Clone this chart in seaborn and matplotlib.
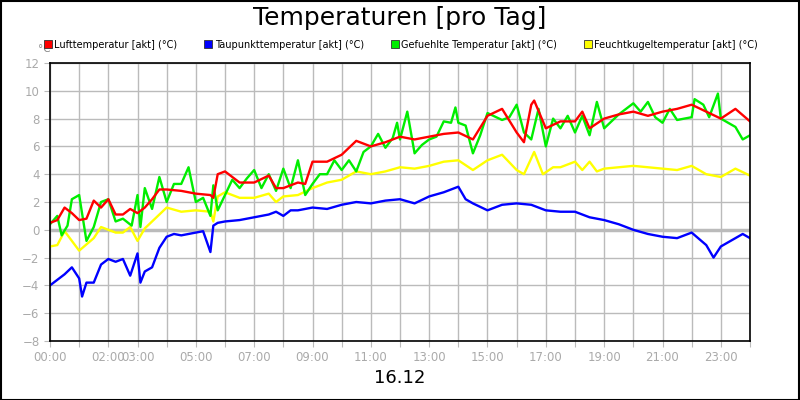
import numpy as np
import pandas as pd
import matplotlib
matplotlib.use("Agg")
import matplotlib.pyplot as plt
import seaborn as sns
from matplotlib.lines import Line2D

names = ["Lufttemperatur [akt] (°C)", "Taupunkttemperatur [akt] (°C)",
         "Gefuehlte Temperatur [akt] (°C)", "Feuchtkugeltemperatur [akt] (°C)"]
colors = ["#ff0000", "#0000ff", "#00ee00", "#ffff00"]

luft_t = [0,0.25,0.5,0.75,1.0,1.25,1.5,1.75,2.0,2.25,2.5,2.75,3.0,3.25,3.5,3.75,4.0,4.5,5.0,5.5,5.6,5.75,6.0,6.5,7.0,7.5,7.75,8.0,8.5,8.75,9.0,9.5,10.0,10.5,11.0,11.5,12.0,12.5,13.0,13.5,14.0,14.5,15.0,15.5,16.0,16.25,16.5,16.6,17.0,17.5,18.0,18.25,18.5,19.0,19.5,20.0,20.5,21.0,21.5,22.0,22.5,23.0,23.5,24.0]
luft_v = [0.5,0.7,1.6,1.2,0.7,0.8,2.1,1.6,2.2,1.1,1.1,1.5,1.2,1.6,2.2,2.9,2.9,2.8,2.6,2.5,2.3,4.0,4.2,3.4,3.4,3.9,3.0,3.0,3.4,3.3,4.9,4.9,5.4,6.4,6.0,6.3,6.7,6.5,6.7,6.9,7.0,6.5,8.2,8.7,7.0,6.3,9.0,9.3,7.3,7.8,7.8,8.5,7.3,8.0,8.3,8.5,8.2,8.5,8.7,9.0,8.5,8.0,8.7,7.8]

gef_t = [0,0.25,0.4,0.6,0.75,1.0,1.25,1.5,1.75,2.0,2.25,2.5,2.8,3.0,3.1,3.25,3.5,3.75,4.0,4.25,4.5,4.75,5.0,5.25,5.5,5.6,5.75,6.0,6.25,6.5,6.75,7.0,7.25,7.5,7.75,8.0,8.25,8.5,8.75,9.0,9.25,9.5,9.75,10.0,10.25,10.5,10.75,11.0,11.25,11.5,11.75,11.9,12.0,12.25,12.5,12.75,13.0,13.25,13.5,13.75,13.9,14.0,14.25,14.5,14.75,15.0,15.5,15.75,16.0,16.25,16.5,16.75,17.0,17.25,17.5,17.75,18.0,18.25,18.5,18.75,19.0,19.5,20.0,20.25,20.5,20.75,21.0,21.25,21.5,22.0,22.1,22.4,22.6,22.9,23.0,23.5,23.75,24.0]
gef_v = [0.4,1.0,-0.4,0.3,2.2,2.5,-0.8,0.2,2.0,2.2,0.6,0.8,0.3,2.5,0.2,3.0,1.5,3.8,2.0,3.3,3.3,4.5,2.0,2.3,1.0,3.2,1.4,2.5,3.6,3.0,3.7,4.3,3.0,4.0,2.8,4.4,3.0,5.0,2.5,3.3,4.0,4.0,5.0,4.3,5.0,4.2,5.6,6.0,6.9,5.9,6.6,7.7,6.5,8.5,5.5,6.1,6.5,6.7,7.8,7.7,8.8,7.7,7.5,5.5,6.8,8.4,7.9,8.1,9.0,7.0,6.5,8.7,6.0,8.0,7.3,8.2,7.0,8.2,6.8,9.2,7.3,8.3,9.1,8.5,9.2,8.1,7.7,8.7,7.9,8.1,9.4,9.0,8.1,9.8,8.0,7.4,6.5,6.8]

feucht_t = [0,0.25,0.5,1.0,1.5,1.75,2.0,2.25,2.5,2.75,3.0,3.25,3.5,3.75,4.0,4.5,5.0,5.5,5.6,5.75,6.0,6.5,7.0,7.5,7.75,8.0,8.5,9.0,9.5,10.0,10.5,11.0,11.5,12.0,12.5,13.0,13.5,14.0,14.5,15.0,15.5,16.0,16.25,16.6,16.9,17.25,17.5,18.0,18.25,18.5,18.75,19.0,19.5,20.0,20.5,21.0,21.5,22.0,22.5,23.0,23.5,24.0]
feucht_v = [-1.2,-1.1,-0.1,-1.5,-0.6,0.2,0.0,-0.2,-0.2,0.2,-0.8,0.1,0.6,1.1,1.6,1.3,1.4,1.3,0.6,2.4,2.7,2.3,2.3,2.6,2.0,2.4,2.5,3.0,3.4,3.6,4.2,4.0,4.2,4.5,4.4,4.6,4.9,5.0,4.3,5.0,5.4,4.3,4.0,5.6,4.0,4.5,4.5,4.9,4.3,4.9,4.2,4.4,4.5,4.6,4.5,4.4,4.3,4.6,4.0,3.8,4.4,3.9]

tau_t = [0,0.25,0.5,0.75,1.0,1.1,1.25,1.5,1.75,2.0,2.25,2.5,2.75,3.0,3.1,3.25,3.5,3.75,4.0,4.25,4.5,5.0,5.25,5.5,5.6,5.75,6.0,6.5,7.0,7.5,7.75,8.0,8.25,8.5,9.0,9.5,10.0,10.5,11.0,11.5,12.0,12.5,13.0,13.5,14.0,14.25,14.5,15.0,15.5,16.0,16.5,17.0,17.5,18.0,18.5,19.0,19.5,20.0,20.5,21.0,21.5,22.0,22.5,22.75,23.0,23.5,23.75,24.0]
tau_v = [-4.0,-3.6,-3.2,-2.7,-3.5,-4.8,-3.8,-3.8,-2.5,-2.1,-2.3,-2.1,-3.3,-1.7,-3.8,-3.0,-2.7,-1.3,-0.5,-0.3,-0.4,-0.2,-0.1,-1.6,0.3,0.5,0.6,0.7,0.9,1.1,1.3,1.0,1.4,1.4,1.6,1.5,1.8,2.0,1.9,2.1,2.2,1.9,2.4,2.7,3.1,2.2,1.9,1.4,1.8,1.9,1.8,1.4,1.3,1.3,0.9,0.7,0.4,0.0,-0.3,-0.5,-0.6,-0.2,-1.1,-2.0,-1.2,-0.6,-0.3,-0.6]

hour_ticks = list(range(0, 25))
hour_labels = {0: "00:00", 2: "02:00", 3: "03:00", 5: "05:00", 7: "07:00", 9: "09:00",
               11: "11:00", 13: "13:00", 15: "15:00", 17: "17:00", 19: "19:00",
               21: "21:00", 23: "23:00"}
y_ticks = list(range(-8, 13, 2))

frames = []
for n, t, v in [(names[0], luft_t, luft_v), (names[1], tau_t, tau_v),
                (names[2], gef_t, gef_v), (names[3], feucht_t, feucht_v)]:
    frames.append(pd.DataFrame({"h": t, "v": v, "s": n}))
df = pd.concat(frames)

fig = plt.figure(figsize=(8, 4), dpi=100)
fig.patches.append(plt.Rectangle((0.001, 0.001), 0.998, 0.997, transform=fig.transFigure,
                                 fill=False, edgecolor="black", linewidth=1.5))
ax = fig.add_axes([0.0625, 0.1475, 0.875, 0.695])
ax.axhline(0, color="#bbbbbb", lw=2.5, zorder=0)
order = [names[3], names[1], names[2], names[0]]
pal = dict(zip(names, colors))
for n in order:
    sns.lineplot(data=df[df.s == n], x="h", y="v", color=pal[n], lw=1.7,
                 estimator=None, sort=False, ax=ax, legend=False)
ax.set_xlim(0, 24)
ax.set_ylim(-8, 12)
ax.set_xticks(hour_ticks)
ax.set_xticklabels([hour_labels.get(h, "") for h in hour_ticks])
ax.set_yticks(y_ticks)
ax.grid(True, color="#bbbbbb", lw=1)
ax.set_axisbelow(True)
ax.tick_params(colors="#bbbbbb", labelcolor="#aaaaaa", labelsize=8.5, length=4)
ax.set_xlabel(""); ax.set_ylabel("")
for s in ax.spines.values():
    s.set_color("black"); s.set_linewidth(1.2)

fig.text(0.5, 0.955, "Temperaturen [pro Tag]", ha="center", va="center", fontsize=18)
fig.text(0.047, 0.878, "°C", fontsize=7.5, color="#888888", ha="left", va="center")
fig.text(0.5, 0.055, "16.12", ha="center", va="center", fontsize=13)

handles = [Line2D([], [], marker="s", ls="", markersize=6, markerfacecolor=c,
                  markeredgecolor="#333333", markeredgewidth=0.6) for c in colors]
fig.legend(handles, names, loc="center", bbox_to_anchor=(0.5, 0.888), ncol=4,
           frameon=False, fontsize=7, handletextpad=0.05, columnspacing=2.6,
           handlelength=1.2)
fig.savefig("out.png", dpi=100)
